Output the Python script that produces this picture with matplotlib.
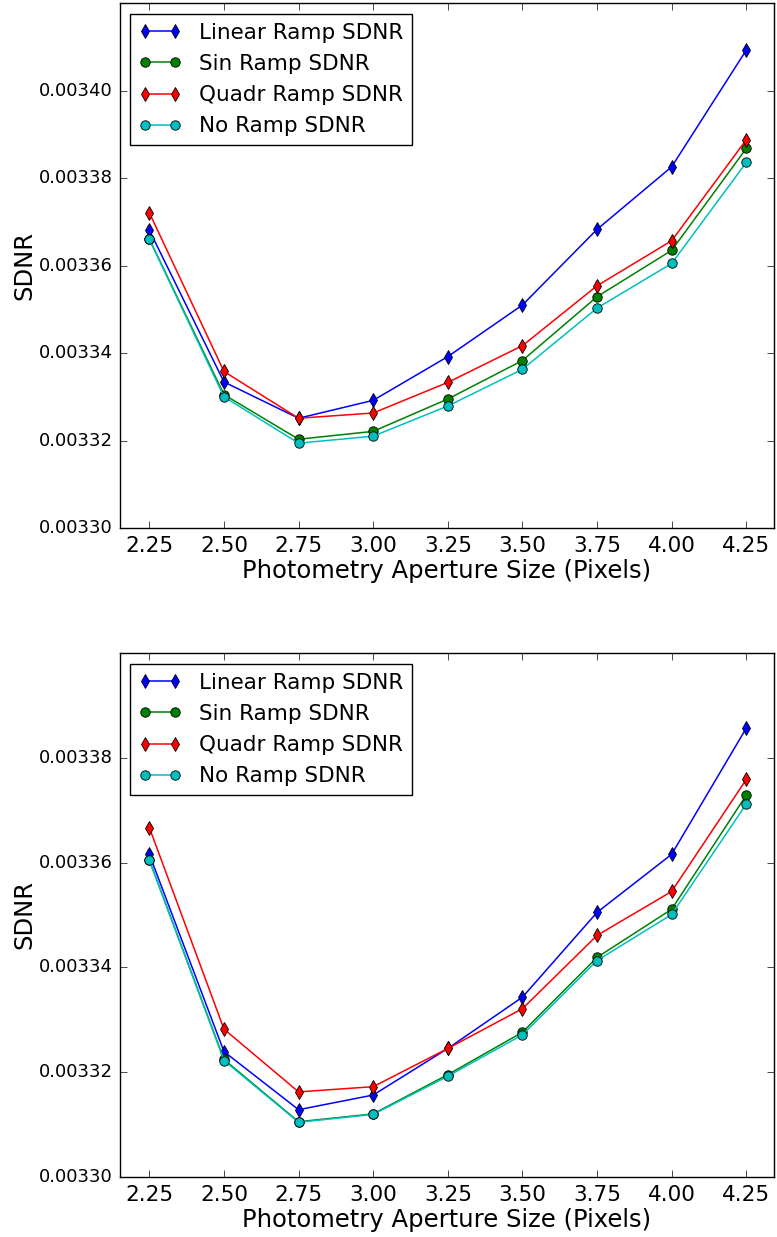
import matplotlib
matplotlib.use("Agg")
import matplotlib.pyplot as plt
from matplotlib.ticker import FormatStrFormatter, FixedLocator

plt.style.use('classic')
plt.rcParams['font.family'] = ['DejaVu Sans']

aperture = [2.25, 2.50, 2.75, 3.00, 3.25, 3.50, 3.75, 4.00, 4.25]

# Top panel
top_linear = [0.0033681, 0.0033334, 0.0033251, 0.0033292, 0.0033392, 0.0033510, 0.0033683, 0.0033826, 0.0034093]
top_sin    = [0.0033661, 0.0033305, 0.0033203, 0.0033221, 0.0033295, 0.0033383, 0.0033529, 0.0033635, 0.0033868]
top_quadr  = [0.0033721, 0.0033358, 0.0033251, 0.0033263, 0.0033333, 0.0033417, 0.0033554, 0.0033657, 0.0033888]
top_none   = [0.0033660, 0.0033300, 0.0033194, 0.0033210, 0.0033279, 0.0033363, 0.0033503, 0.0033605, 0.0033836]

# Bottom panel
bot_linear = [0.0033616, 0.0033239, 0.0033128, 0.0033156, 0.0033245, 0.0033343, 0.0033505, 0.0033616, 0.0033857]
bot_sin    = [0.0033605, 0.0033224, 0.0033105, 0.0033120, 0.0033195, 0.0033276, 0.0033419, 0.0033511, 0.0033729]
bot_quadr  = [0.0033667, 0.0033282, 0.0033162, 0.0033172, 0.0033245, 0.0033321, 0.0033461, 0.0033545, 0.0033759]
bot_none   = [0.0033605, 0.0033222, 0.0033104, 0.0033119, 0.0033192, 0.0033271, 0.0033413, 0.0033501, 0.0033712]

labels = ['Linear Ramp SDNR', 'Sin Ramp SDNR', 'Quadr Ramp SDNR', 'No Ramp SDNR']
colors = ['b', 'g', 'r', 'c']
markers = ['d', 'o', 'd', 'o']

xticks = [2.25, 2.50, 2.75, 3.00, 3.25, 3.50, 3.75, 4.00, 4.25]
top_yticks = [0.00330, 0.00332, 0.00334, 0.00336, 0.00338, 0.00340]
bot_yticks = [0.00330, 0.00332, 0.00334, 0.00336, 0.00338]

fig = plt.figure(figsize=(7.77, 12.37), dpi=100, facecolor='white')
ax1 = fig.add_axes([0.1538, 0.57316, 0.8424, 0.42417])
ax2 = fig.add_axes([0.1538, 0.04875, 0.8424, 0.42312])

panels = [
    (ax1, [top_linear, top_sin, top_quadr, top_none], (0.00330, 0.00342), top_yticks),
    (ax2, [bot_linear, bot_sin, bot_quadr, bot_none], (0.00330, 0.00340), bot_yticks),
]

for ax, series, ylim, yticks in panels:
    ax.set_facecolor('white')
    for vals, lab, col, mk in zip(series, labels, colors, markers):
        ax.plot(aperture, vals, color=col, marker=mk, markersize=6.8,
                markeredgecolor='k', markeredgewidth=0.6, linewidth=1.1, label=lab)
    ax.set_xlim(2.15, 4.343)
    ax.set_ylim(*ylim)
    ax.xaxis.set_major_locator(FixedLocator(xticks))
    ax.yaxis.set_major_locator(FixedLocator(yticks))
    ax.xaxis.set_major_formatter(FormatStrFormatter('%.2f'))
    ax.yaxis.set_major_formatter(FormatStrFormatter('%.5f'))
    ax.tick_params(axis='x', labelsize=15.5, direction='in', length=5, pad=6)
    ax.tick_params(axis='y', labelsize=13, direction='in', length=5, pad=5)
    ax.set_xlabel('Photometry Aperture Size (Pixels)', fontsize=17.5, labelpad=2)
    ax.set_ylabel('SDNR', fontsize=17.5, labelpad=1.5)
    leg = ax.legend(loc='upper left', fontsize=15.5, numpoints=2, labelspacing=0.52,
                    handlelength=2.0, handletextpad=0.8, borderpad=0.4,
                    borderaxespad=0.5, fancybox=False, shadow=False)
    leg.get_frame().set_edgecolor('k')
    leg.get_frame().set_linewidth(1.0)

fig.savefig('out.png', dpi=100, facecolor='white')
